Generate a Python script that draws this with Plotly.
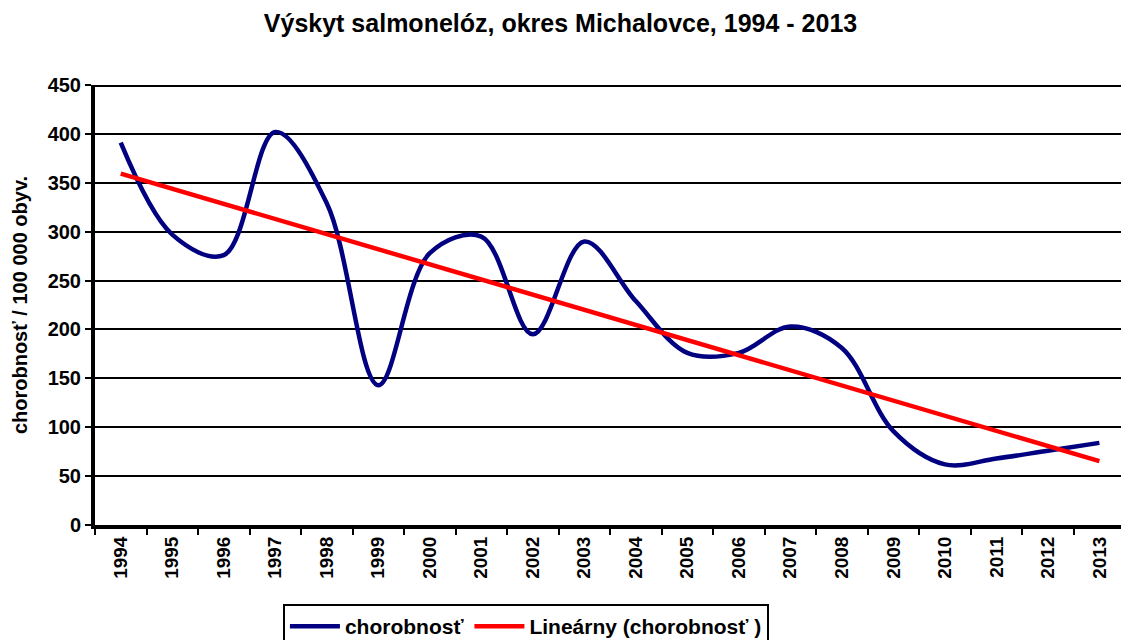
import numpy as np
import plotly.graph_objects as go

years = [str(y) for y in range(1994, 2014)]
chorobnost = [391, 297, 276, 402, 329, 143, 278, 295, 195, 290,
              229, 176, 176, 203, 181, 96, 62, 68, 76, 84]
y_ticks = [0, 50, 100, 150, 200, 250, 300, 350, 400, 450]

idx = np.arange(len(years))
slope, intercept = np.polyfit(idx, chorobnost, 1)
trend = (slope * idx + intercept).tolist()

FONT = "Liberation Sans, Arial, sans-serif"

fig = go.Figure()
fig.add_trace(go.Scatter(
    x=years, y=chorobnost, mode="lines", name="chorobnosť",
    line=dict(color="#000080", width=4.5, shape="spline", smoothing=1.0),
))
fig.add_trace(go.Scatter(
    x=years, y=trend, mode="lines", name="Lineárny (chorobnosť )",
    line=dict(color="#FF0000", width=4.5),
))

fig.add_shape(type="line", xref="paper", yref="y", x0=0, x1=1, y0=450, y1=450,
              line=dict(color="black", width=4), layer="above")

fig.update_layout(
    width=1121, height=640,
    margin=dict(l=95, r=0, t=85, b=115),
    paper_bgcolor="white", plot_bgcolor="white",
    font=dict(family=FONT, color="black"),
    title=dict(text="Výskyt salmonelóz, okres Michalovce, 1994 - 2013",
               x=0.5, xanchor="center", xref="container",
               y=1 - 23 / 640, yanchor="middle", yref="container",
               font=dict(family=FONT, size=25, weight="bold", color="black")),
    showlegend=True,
    legend=dict(orientation="h", x=0.42, xanchor="center", xref="paper",
                y=1 - 604 / 640, yanchor="top", yref="container",
                bordercolor="black", borderwidth=2, bgcolor="white",
                font=dict(family=FONT, size=21, weight="bold", color="black"),
                itemwidth=50, tracegroupgap=0),
)

fig.update_xaxes(
    type="category", range=[-0.5, 19.42],
    tickson="boundaries", ticks="outside", ticklen=6, tickwidth=2, tickcolor="black",
    showline=True, linewidth=4, linecolor="black",
    showgrid=False, tickangle=-90,
    tickfont=dict(family=FONT, size=19, weight="bold", color="black"),
)
fig.update_yaxes(
    range=[0, 450], tickvals=y_ticks, ticktext=[str(v) for v in y_ticks],
    ticks="outside", ticklen=6, tickwidth=2, tickcolor="black",
    showline=True, linewidth=4, linecolor="black",
    showgrid=True, gridcolor="black", gridwidth=2,
    zeroline=False,
    tickfont=dict(family=FONT, size=20, weight="bold", color="black"),
    title=dict(text="chorobnosť / 100 000 obyv.", standoff=16,
               font=dict(family=FONT, size=20, weight="bold", color="black")),
)

fig.write_html("out.html", config={"displayModeBar": False},
               post_script="document.body.style.margin='0';document.body.style.overflow='hidden';")
